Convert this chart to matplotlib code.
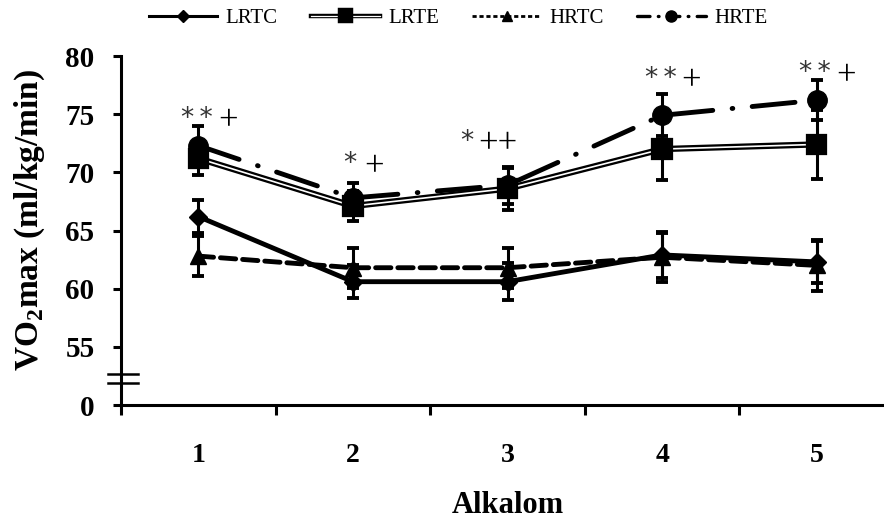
import matplotlib
matplotlib.use("Agg")
import matplotlib.pyplot as plt
import matplotlib.patheffects as pe
import matplotlib.transforms as mtransforms
from matplotlib.lines import Line2D

plt.rcParams['font.family'] = ['Liberation Serif', 'DejaVu Serif']
plt.rcParams['mathtext.fontset'] = 'custom'
plt.rcParams['mathtext.rm'] = 'Liberation Serif'
plt.rcParams['mathtext.bf'] = 'Liberation Serif:bold'
plt.rcParams['lines.scale_dashes'] = False

# measurement sessions
sessions = [1, 2, 3, 4, 5]
tick_names = ['1', '2', '3', '4', '5']

# VO2max means and error bars per group
lrtc = [66.2, 60.6, 60.6, 62.9, 62.3]
lrtc_err = [1.4, 1.4, 1.6, 2.0, 1.8]
lrte = [71.2, 67.1, 68.6, 72.0, 72.4]
lrte_err = [1.4, 1.3, 1.8, 2.7, 3.0]
hrtc = [62.8, 61.8, 61.8, 62.7, 62.0]
hrtc_err = [1.7, 1.7, 1.7, 2.1, 2.2]
hrte = [72.3, 67.8, 68.9, 74.9, 76.2]
hrte_err = [1.7, 1.3, 1.6, 1.8, 1.7]

# significance marks above each session
stars = ['*\u2009*', '*', '*', '*\u2009*', '*\u2009*']
pluses = ['+', '+', '++', '+', '+']
mark_y = [74.6, 70.7, 72.6, 78.0, 78.5]

# y axis is broken: the bottom tick stands for 0
y_ticks = [50, 55, 60, 65, 70, 75, 80]
y_tick_names = ['0', '55', '60', '65', '70', '75', '80']

fig = plt.figure(figsize=(8.84, 5.21), dpi=100)
ax = fig.add_axes([121 / 884, 116 / 521, 773 / 884, 349 / 521])

err_kw = dict(ecolor='black', elinewidth=2.2, capsize=4.5, capthick=2.8)
hrtc_ls = (0, (11, 5))
hrte_ls = (0, (31, 14, 0.5, 14))
double = [pe.Stroke(linewidth=4.5, foreground='black'), pe.Normal()]

ax.errorbar(sessions, hrtc, yerr=hrtc_err, color='black', lw=3.5,
            linestyle=hrtc_ls, dash_capstyle='round',
            marker='^', ms=11, zorder=3, **err_kw)
ax.errorbar(sessions, lrtc, yerr=lrtc_err, color='black', lw=3.5,
            marker='D', ms=9, zorder=3, **err_kw)
ax.errorbar(sessions, hrte, yerr=hrte_err, color='black', lw=3.5,
            linestyle=hrte_ls, dash_capstyle='round',
            marker='o', ms=14, zorder=3, **err_kw)
lrte_cont = ax.errorbar(sessions, lrte, yerr=lrte_err, color='white', lw=1.2,
                        marker='s', ms=11, mfc='black', mec='black',
                        zorder=4, **err_kw)
lrte_cont.lines[0].set_path_effects(double)

ax.set_xlim(0.5, 5.5)
ax.set_ylim(50, 80)

ax.set_xticks([0.5, 1.5, 2.5, 3.5, 4.5, 5.5])
ax.set_xticklabels([])
ax.set_xticks(sessions, minor=True)
ax.set_xticklabels(tick_names, minor=True)
ax.tick_params(axis='x', which='major', direction='out', length=7, width=2.2)
ax.tick_params(axis='x', which='minor', length=0, pad=27, labelsize=20)
ax.set_yticks(y_ticks)
ax.set_yticklabels(y_tick_names)
ax.tick_params(axis='y', direction='out', length=6, width=2.2, pad=13, labelsize=21)
for lab in ax.get_xticklabels(minor=True) + ax.get_yticklabels():
    lab.set_fontweight('bold')

for side in ['top', 'right']:
    ax.spines[side].set_visible(False)
for side in ['left', 'bottom']:
    ax.spines[side].set_linewidth(2.2)

# break marks on the y axis
brk = mtransforms.blended_transform_factory(ax.transAxes, ax.transData)
for yb in [52.7, 51.9]:
    ax.plot([-0.017, 0.022], [yb, yb], color='black', lw=1.8,
            transform=brk, clip_on=False, zorder=5)

for x, s, p, y in zip(sessions, stars, pluses, mark_y):
    if p == '++':
        ax.text(x - 0.26, y, s, ha='center', va='center', fontsize=19,
                color='#333333', family='DejaVu Sans')
        ax.text(x - 0.06, y - 0.25, p, ha='center', va='center', fontsize=25)
    elif s == '*':
        ax.text(x - 0.02, y, s, ha='center', va='center', fontsize=19,
                color='#333333', family='DejaVu Sans')
        ax.text(x + 0.14, y - 0.3, p, ha='center', va='center', fontsize=25)
    else:
        ax.text(x - 0.01, y, s, ha='center', va='center', fontsize=19,
                color='#333333', family='DejaVu Sans')
        ax.text(x + 0.19, y - 0.25, p, ha='center', va='center', fontsize=25)

ax.set_xlabel('Alkalom', fontsize=22, fontweight='bold')
ax.xaxis.set_label_coords(0.5, -0.287)
ax.xaxis.label.set_va('center')
ax.set_ylabel(r'VO$_\mathbf{2}$max (ml/kg/min)', fontsize=24, fontweight='bold')
ax.yaxis.set_label_coords(-0.118, 0.53)
ax.yaxis.label.set_va('center')

leg_handles = [
    Line2D([], [], color='black', lw=2.2, marker='D', ms=6),
    Line2D([], [], color='white', lw=0.9, marker='s', ms=8, mfc='black',
           mec='black', path_effects=[pe.Stroke(linewidth=3.2, foreground='black'),
                                      pe.Normal()]),
    Line2D([], [], color='black', lw=2.0, linestyle=(0, (3, 2)), marker='^', ms=7),
    Line2D([], [], color='black', lw=2.4, linestyle=(0, (9, 6, 0.5, 6)),
           dash_capstyle='round', marker='o', ms=8),
]
fig.legend(leg_handles, ['LRTC', 'LRTE', 'HRTC', 'HRTE'],
           loc='center', bbox_to_anchor=(458 / 884, 1 - 18 / 521),
           ncol=4, frameon=False, fontsize=15, handlelength=3.3,
           handletextpad=0.4, columnspacing=1.6)

fig.savefig('out.png', dpi=100)
